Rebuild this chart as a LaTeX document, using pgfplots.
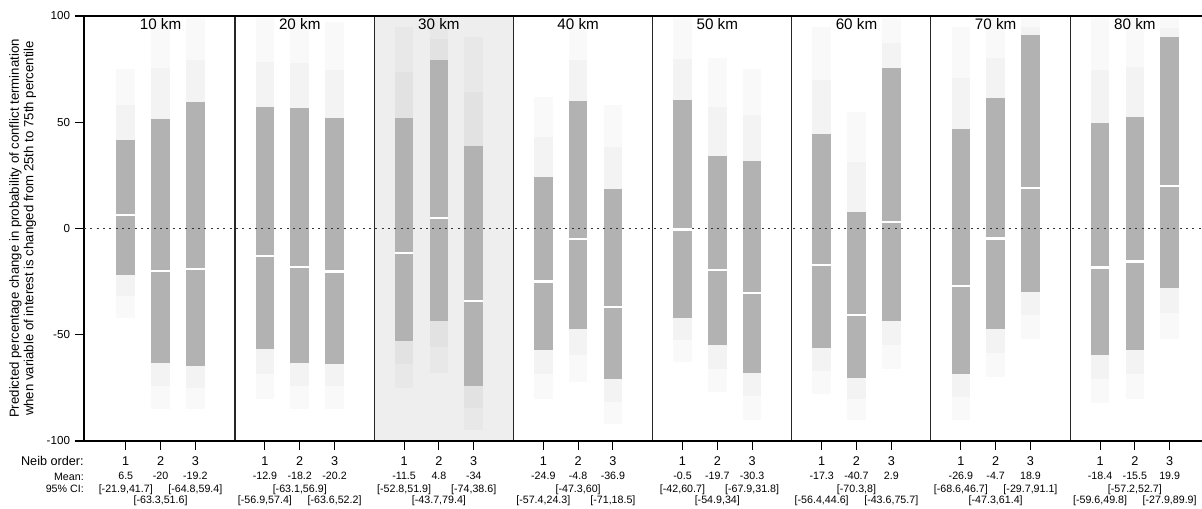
\documentclass[border=0pt]{standalone}
\usepackage{pgfplots}
\pgfplotsset{compat=1.18}
\usepackage{pgfplotstable}
\usepackage{fontspec}
\setmainfont{Liberation Sans}
\definecolor{barcol}{gray}{0.70}
\definecolor{panelcol}{gray}{0.935}

% x: position, mean, 95% CI (lo,hi), extent of simulation cloud (tlo,thi),
% cy: vertical position of the CI label, ci: CI label
\pgfplotstableread{
x mean lo hi tlo thi cy ci
1 6.5 -21.9 41.7 -42 75 -124.0 [-21.9,41.7]
2 -20 -63.3 51.6 -85 99 -129.3 [-63.3,51.6]
3 -19.2 -64.8 59.4 -85 99 -124.0 [-64.8,59.4]
5 -12.9 -56.9 57.4 -80 99 -129.3 [-56.9,57.4]
6 -18.2 -63.1 56.9 -85 99 -124.0 [-63.1,56.9]
7 -20.2 -63.6 52.2 -85 97 -129.3 [-63.6,52.2]
9 -11.5 -52.8 51.9 -75 95 -124.0 [-52.8,51.9]
10 4.8 -43.7 79.4 -68 99 -129.3 [-43.7,79.4]
11 -34 -74 38.6 -95 90 -124.0 [-74,38.6]
13 -24.9 -57.4 24.3 -80 62 -129.3 [-57.4,24.3]
14 -4.8 -47.3 60 -72 99 -124.0 [-47.3,60]
15 -36.9 -71 18.5 -92 58 -129.3 [-71,18.5]
17 -0.5 -42 60.7 -63 99 -124.0 [-42,60.7]
18 -19.7 -54.9 34 -77 80 -129.3 [-54.9,34]
19 -30.3 -67.9 31.8 -90 75 -124.0 [-67.9,31.8]
21 -17.3 -56.4 44.6 -78 95 -129.3 [-56.4,44.6]
22 -40.7 -70.3 8 -90 55 -124.0 [-70.3,8]
23 2.9 -43.6 75.7 -66 99 -129.3 [-43.6,75.7]
25 -26.9 -68.6 46.7 -90 95 -124.0 [-68.6,46.7]
26 -4.7 -47.3 61.4 -70 99 -129.3 [-47.3,61.4]
27 18.9 -29.7 91.1 -52 99 -124.0 [-29.7,91.1]
29 -18.4 -59.6 49.8 -82 99 -129.3 [-59.6,49.8]
30 -15.5 -57.2 52.7 -80 99 -124.0 [-57.2,52.7]
31 19.9 -27.9 89.9 -52 99 -129.3 [-27.9,89.9]
}\data

\begin{document}
\begin{tikzpicture}
\begin{axis}[name=ax, set layers, clip=false, scale only axis,
  width=838.5pt, height=318.75pt,
  xmin=-0.2, xmax=31.93, ymin=-100, ymax=100,
  axis x line=box, axis y line=left,
  axis line style={black, line width=0.8pt, -},
  tick align=outside, major tick length=7pt,
  tick style={black, line width=0.8pt},
  xtick={1,2,3,5,6,7,9,10,11,13,14,15,17,18,19,21,22,23,25,26,27,29,30,31},
  xticklabels={1,2,3,1,2,3,1,2,3,1,2,3,1,2,3,1,2,3,1,2,3,1,2,3},
  ytick={-100,-50,0,50,100}, yticklabels={-100,-50,0,50,100},
  xtick pos=bottom, ytick pos=left,
  xticklabel style={font=\fontsize{9.5}{11}\selectfont, anchor=base, yshift=-11.5pt},
  yticklabel style={font=\fontsize{8.7}{10}\selectfont},
  extra x ticks={4.14,8.14,12.14,16.14,20.14,24.14,28.14},
  extra x tick labels={},
  extra x tick style={grid=major, major grid style={black!85, line width=0.8pt}, major tick length=0pt},
]
% highlighted 30 km panel
\addplot[on layer=axis background, fill=panelcol, draw=none, forget plot]
  coordinates {(8.14,-100) (12.14,-100) (12.14,100) (8.14,100) (8.14,-100)};

% faint simulation cloud (outer)
\addplot[forget plot, only marks, mark=*, mark size=0pt, mark options={draw=none, fill=none},
  error bars/.cd, y dir=both, y explicit, error mark=none,
  error bar style={draw=black, draw opacity=0.022, line width=14pt}]
  table[x=x, y=mean, y error plus expr=\thisrow{thi}-\thisrow{mean}, y error minus expr=\thisrow{mean}-\thisrow{tlo}] {\data};
% faint simulation cloud (inner, denser)
\addplot[forget plot, only marks, mark=*, mark size=0pt, mark options={draw=none, fill=none},
  error bars/.cd, y dir=both, y explicit, error mark=none,
  error bar style={draw=black, draw opacity=0.025, line width=14pt}]
  table[x=x, y=mean, y error plus expr=(\thisrow{hi}+\thisrow{thi})/2-\thisrow{mean}, y error minus expr=\thisrow{mean}-(\thisrow{lo}+\thisrow{tlo})/2] {\data};
% 95% CI bars
\addplot[forget plot, only marks, mark=*, mark size=0pt, mark options={draw=none, fill=none},
  error bars/.cd, y dir=both, y explicit, error mark=none,
  error bar style={draw=barcol, line width=14pt}]
  table[x=x, y=mean, y error plus expr=\thisrow{hi}-\thisrow{mean}, y error minus expr=\thisrow{mean}-\thisrow{lo}] {\data};
% means
\addplot[forget plot, only marks, mark=-, mark size=7pt, mark options={draw=white, line width=1.7pt}]
  table[x=x, y=mean] {\data};
% zero line
\addplot[forget plot, black!80, line width=1.4pt, dash pattern=on 1.5pt off 3.25pt]
  coordinates {(-0.2,0) (31.93,0)};

% mean row
\addplot[forget plot, only marks, mark=*, mark size=0pt, mark options={draw=none, fill=none},
  point meta=explicit symbolic,
  nodes near coords={\pgfplotspointmeta},
  nodes near coords style={anchor=base, inner sep=0pt, font=\fontsize{8}{9.6}\selectfont, text=black}]
  table[x=x, y expr=-118.35, meta=mean] {\data};
% CI row
\addplot[forget plot, only marks, mark=*, mark size=0pt, mark options={draw=none, fill=none},
  point meta=explicit symbolic,
  nodes near coords={\pgfplotspointmeta},
  nodes near coords style={anchor=base, inner sep=0pt, font=\fontsize{8}{9.6}\selectfont, text=black}]
  table[x=x, y=cy, meta=ci] {\data};

% panel titles
\node[anchor=base, yshift=-10.5pt, font=\fontsize{11.4}{13}\selectfont] at (axis cs:2,100) {10 km};
\node[anchor=base, yshift=-10.5pt, font=\fontsize{11.4}{13}\selectfont] at (axis cs:6,100) {20 km};
\node[anchor=base, yshift=-10.5pt, font=\fontsize{11.4}{13}\selectfont] at (axis cs:10,100) {30 km};
\node[anchor=base, yshift=-10.5pt, font=\fontsize{11.4}{13}\selectfont] at (axis cs:14,100) {40 km};
\node[anchor=base, yshift=-10.5pt, font=\fontsize{11.4}{13}\selectfont] at (axis cs:18,100) {50 km};
\node[anchor=base, yshift=-10.5pt, font=\fontsize{11.4}{13}\selectfont] at (axis cs:22,100) {60 km};
\node[anchor=base, yshift=-10.5pt, font=\fontsize{11.4}{13}\selectfont] at (axis cs:26,100) {70 km};
\node[anchor=base, yshift=-10.5pt, font=\fontsize{11.4}{13}\selectfont] at (axis cs:30,100) {80 km};

% row labels
\node[anchor=base east, yshift=-18.5pt, inner sep=0pt, font=\fontsize{9.5}{11}\selectfont] at (rel axis cs:0,0) {Neib order:};
\node[anchor=base east, yshift=-29.25pt, inner sep=0pt, font=\fontsize{8}{9.6}\selectfont] at (rel axis cs:0,0) {Mean:};
\node[anchor=base east, yshift=-38.25pt, inner sep=0pt, font=\fontsize{8}{9.6}\selectfont] at (rel axis cs:0,0) {95\% CI:};

% y label
\node[rotate=90, align=center, font=\fontsize{9.9}{10.8}\selectfont] at ([xshift=-46pt]rel axis cs:0,0.5)
  {Predicted percentage change in probability of conflict termination\\when variable of interest is changed from 25th to 75th percentile};
\end{axis}
\pgfresetboundingbox
\path ([xshift=-63pt,yshift=-50.25pt]ax.south west) rectangle ([yshift=12pt]ax.north east);
\end{tikzpicture}
\end{document}
